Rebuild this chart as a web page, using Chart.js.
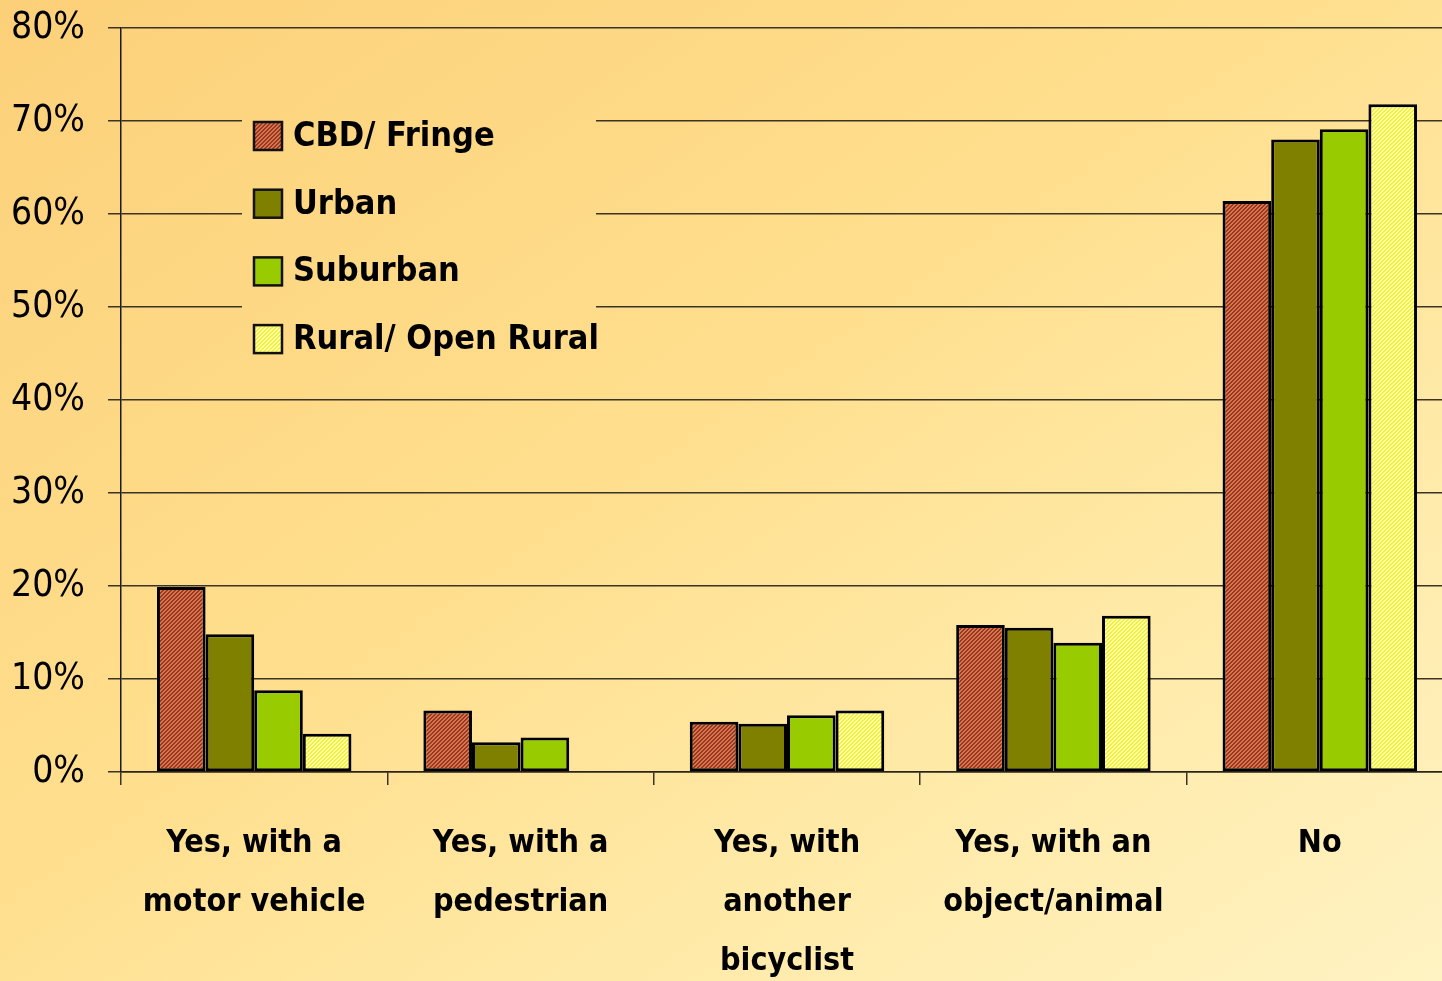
<!DOCTYPE html>
<html>
<head>
<meta charset="utf-8">
<script src="https://cdn.jsdelivr.net/npm/chart.js@4"></script>
<style>
  html, body { margin: 0; padding: 0; overflow: hidden; }
  body {
    width: 1442px; height: 981px;
    background: linear-gradient(to bottom right, #FCD079 0%, #FFDF8E 45%, #FFE9A6 70%, #FFF3C3 100%);
  }
  #wrap { position: absolute; left: 0; top: 0; width: 1453px; height: 981px; }
</style>
</head>
<body>
<div id="wrap"><canvas id="myChart"></canvas></div>
<script>
const labels = [
  ['Yes, with a', 'motor vehicle'],
  ['Yes, with a', 'pedestrian'],
  ['Yes, with', 'another', 'bicyclist'],
  ['Yes, with an', 'object/animal'],
  'No'
];
const seriesNames = ['CBD/ Fringe', 'Urban', 'Suburban', 'Rural/ Open Rural'];
const cbd = [19.9, 6.6, 5.4, 15.8, 61.4];
const urban = [14.8, 3.2, 5.2, 15.5, 68.0];
const suburban = [8.8, 3.7, 6.1, 13.9, 69.1];
const rural = [4.1, null, 6.6, 16.8, 71.8];
const yTicks = [0, 10, 20, 30, 40, 50, 60, 70, 80];

const FONT = "'Liberation Sans Narrow', 'Arial Narrow', 'DejaVu Sans Condensed', sans-serif";

// small diagonal hatch tiles
function hatch(c1, c2) {
  const t = document.createElement('canvas');
  t.width = 4; t.height = 4;
  const g = t.getContext('2d');
  for (let x = 0; x < 4; x++) {
    for (let y = 0; y < 4; y++) {
      g.fillStyle = ((x + y) % 4 < 2) ? c1 : c2;
      g.fillRect(x, y, 1, 1);
    }
  }
  return g.createPattern(t, 'repeat');
}
const cbdFill = hatch('#93392C', '#DC7444');
const ruralFill = hatch('#FFFFB4', '#F4F236');
const fills = [cbdFill, '#808000', '#99CC00', ruralFill];

// legend sits inside the plot, over a cleared patch of the grid
const legendBox = {
  id: 'legendBox',
  beforeDatasetsDraw(chart) {
    const a = chart.chartArea;
    chart.ctx.clearRect(a.left + 121, a.top + 75, 354, 270);
  },
  afterDraw(chart) {
    const ctx = chart.ctx, a = chart.chartArea;
    ctx.save();
    ctx.font = 'bold 34px ' + FONT;
    ctx.textBaseline = 'middle';
    ctx.textAlign = 'left';
    seriesNames.forEach((name, i) => {
      const cy = a.top + 108 + i * 67.7;
      const sx = a.left + 133;
      ctx.fillStyle = fills[i];
      ctx.fillRect(sx, cy - 14, 28, 28);
      ctx.lineWidth = 2.5;
      ctx.strokeStyle = '#111';
      ctx.strokeRect(sx, cy - 14, 28, 28);
      ctx.fillStyle = '#000';
      ctx.fillText(name, sx + 39, cy + 1);
    });
    ctx.restore();
  }
};

const ctx = document.getElementById('myChart');
new Chart(ctx, {
  type: 'bar',
  data: {
    labels: labels,
    datasets: [cbd, urban, suburban, rural].map((d, i) => ({
      label: seriesNames[i],
      data: d,
      backgroundColor: fills[i],
      borderColor: '#000',
      borderWidth: 3,
      borderSkipped: false,
      categoryPercentage: 0.73,
      barPercentage: 1.0
    }))
  },
  options: {
    responsive: true,
    maintainAspectRatio: false,
    animation: false,
    layout: { padding: { top: 28, right: 0, left: 0, bottom: 0 } },
    plugins: {
      legend: { display: false },
      tooltip: { enabled: false }
    },
    scales: {
      x: {
        grid: {
          offset: true,
          drawOnChartArea: false,
          drawTicks: true,
          tickLength: 13,
          color: '#3a3326',
          lineWidth: 1.5
        },
        border: { display: true, color: '#2a2418', width: 1.5 },
        ticks: {
          color: '#000',
          maxRotation: 0,
          autoSkip: false,
          padding: 29,
          font: { family: FONT, size: 32, weight: 'bold', lineHeight: 1.84 }
        },
        afterFit(scale) {
          scale.height = 209;
          scale.paddingLeft = 0;
          scale.paddingRight = 0;
        }
      },
      y: {
        min: 0,
        max: 80,
        afterBuildTicks(scale) { scale.ticks = yTicks.map(v => ({ value: v })); },
        grid: {
          color: '#3a3326',
          lineWidth: 1.5,
          tickLength: 13
        },
        border: { display: true, color: '#1a1a1a', width: 1.5 },
        ticks: {
          color: '#000',
          padding: 23,
          callback: v => v + '%',
          font: { family: FONT, size: 37 }
        },
        afterFit(scale) {
          scale.width = 121;
          scale.paddingTop = 0;
          scale.paddingBottom = 0;
        }
      }
    }
  },
  plugins: [legendBox]
});
</script>
</body>
</html>
